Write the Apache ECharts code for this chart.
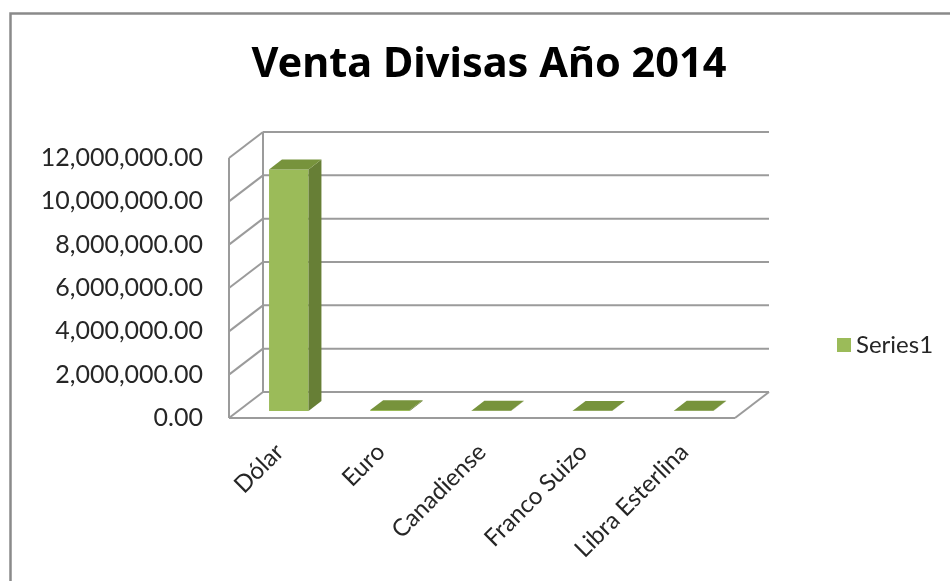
<!DOCTYPE html>
<html><head><meta charset="utf-8">
<script src="https://cdn.jsdelivr.net/npm/echarts@6/dist/echarts.min.js"></script>
<style>html,body{margin:0;padding:0;background:#fff}#c{width:950px;height:581px}</style>
</head><body><div id="c"></div>
<script>
const titleText = 'Venta Divisas Año 2014';
const seriesName = 'Series1';
const categories = ['Dólar', 'Euro', 'Canadiense', 'Franco Suizo', 'Libra Esterlina'];
const values = [11150000, 40000, 15000, 10000, 12000];
const yTicks = [0, 2000000, 4000000, 6000000, 8000000, 10000000, 12000000];

const DEPTH = [34, -26];
const BAR_T0 = 0.27, BAR_T1 = 0.65;
const GRID_COLOR = '#9b9b9b';
const FONT = 'Lato';

function fmt(v) {
  return Number(v).toLocaleString('en-US', {minimumFractionDigits: 2, maximumFractionDigits: 2});
}

function frameItem(params, api) {
  const cs = params.coordSys;
  const v = api.value(1);
  const y = api.coord([0, v])[1];
  const x0 = cs.x, x1 = cs.x + cs.width;
  const ls = {stroke: GRID_COLOR, lineWidth: 2, fill: null};
  const ch = [];
  ch.push({type: 'line', shape: {x1: x0 + DEPTH[0], y1: y + DEPTH[1], x2: x1 + DEPTH[0], y2: y + DEPTH[1]}, style: ls});
  ch.push({type: 'line', shape: {x1: x0, y1: y, x2: x0 + DEPTH[0], y2: y + DEPTH[1]}, style: ls});
  if (params.dataIndex === 0) {
    const yT = cs.y, yB = cs.y + cs.height;
    ch.push({type: 'line', shape: {x1: x0, y1: yT, x2: x0, y2: yB}, style: ls});
    ch.push({type: 'line', shape: {x1: x0 + DEPTH[0], y1: yT + DEPTH[1], x2: x0 + DEPTH[0], y2: yB + DEPTH[1]}, style: ls});
    ch.push({type: 'line', shape: {x1: x0, y1: yB, x2: x1, y2: yB}, style: ls});
    ch.push({type: 'line', shape: {x1: x1, y1: yB, x2: x1 + DEPTH[0], y2: yB + DEPTH[1]}, style: ls});
  }
  return {type: 'group', children: ch};
}

function barItem(params, api) {
  const i = api.value(0), v = api.value(1);
  const base = api.coord([i, 0]), top = api.coord([i, v]);
  const band = api.size([1, 0])[0];
  const w = band * 0.39;
  const fx = base[0] - w / 2 + DEPTH[0] * BAR_T0;
  const fyb = base[1] + DEPTH[1] * BAR_T0;
  const fyt = Math.min(top[1] + DEPTH[1] * BAR_T0, fyb);
  const dx = DEPTH[0] * (BAR_T1 - BAR_T0), dy = DEPTH[1] * (BAR_T1 - BAR_T0);
  return {type: 'group', children: [
    {type: 'rect', shape: {x: fx, y: fyt, width: w, height: fyb - fyt}, style: {fill: '#9BBB59'}},
    {type: 'polygon', shape: {points: [[fx + w, fyt], [fx + w + dx, fyt + dy], [fx + w + dx, fyb + dy], [fx + w, fyb]]}, style: {fill: '#677F36'}},
    {type: 'polygon', shape: {points: [[fx, fyt], [fx + dx, fyt + dy], [fx + w + dx, fyt + dy], [fx + w, fyt]]}, style: {fill: '#77933C'}}
  ]};
}

const chart = echarts.init(document.getElementById('c'));
chart.setOption({
  animation: false,
  backgroundColor: '#fff',
  title: {
    text: titleText, left: 484, top: 39, textAlign: 'center',
    textStyle: {fontFamily: 'Noto Sans', fontWeight: 'bold', fontSize: 41.5, color: '#000'}
  },
  graphic: [{type: 'rect', left: 8, top: 11, shape: {width: 1000, height: 1000}, style: {fill: null, stroke: '#8a8a8a', lineWidth: 2.5}, silent: true}],
  legend: {
    data: [{name: seriesName, icon: 'rect'}], left: 832, top: 328, itemWidth: 14, itemHeight: 14, itemGap: 7,
    textStyle: {fontFamily: FONT, fontSize: 24, color: '#262626'}
  },
  grid: {left: 229, right: 215, top: 158, bottom: 163, containLabel: false},
  xAxis: {
    type: 'category', data: categories,
    axisLine: {show: false}, axisTick: {show: false}, splitLine: {show: false},
    axisLabel: {rotate: 45, margin: 30, interval: 0, fontFamily: FONT, fontSize: 24, color: '#262626'}
  },
  yAxis: {
    type: 'value', min: 0, max: 12000000, interval: 2000000,
    axisLine: {show: false}, axisTick: {show: false}, splitLine: {show: false},
    axisLabel: {margin: 26, formatter: fmt, fontFamily: FONT, fontSize: 25, color: '#262626'}
  },
  series: [
    {type: 'custom', name: 'frame', renderItem: frameItem, data: yTicks.map(v => [0, v]), encode: {x: 0, y: 1}, z: 1, silent: true},
    {type: 'custom', name: seriesName, renderItem: barItem, data: values.map((v, i) => [i, v]), encode: {x: 0, y: 1}, z: 2, itemStyle: {color: '#9BBB59'}}
  ]
});
</script>
</body></html>
